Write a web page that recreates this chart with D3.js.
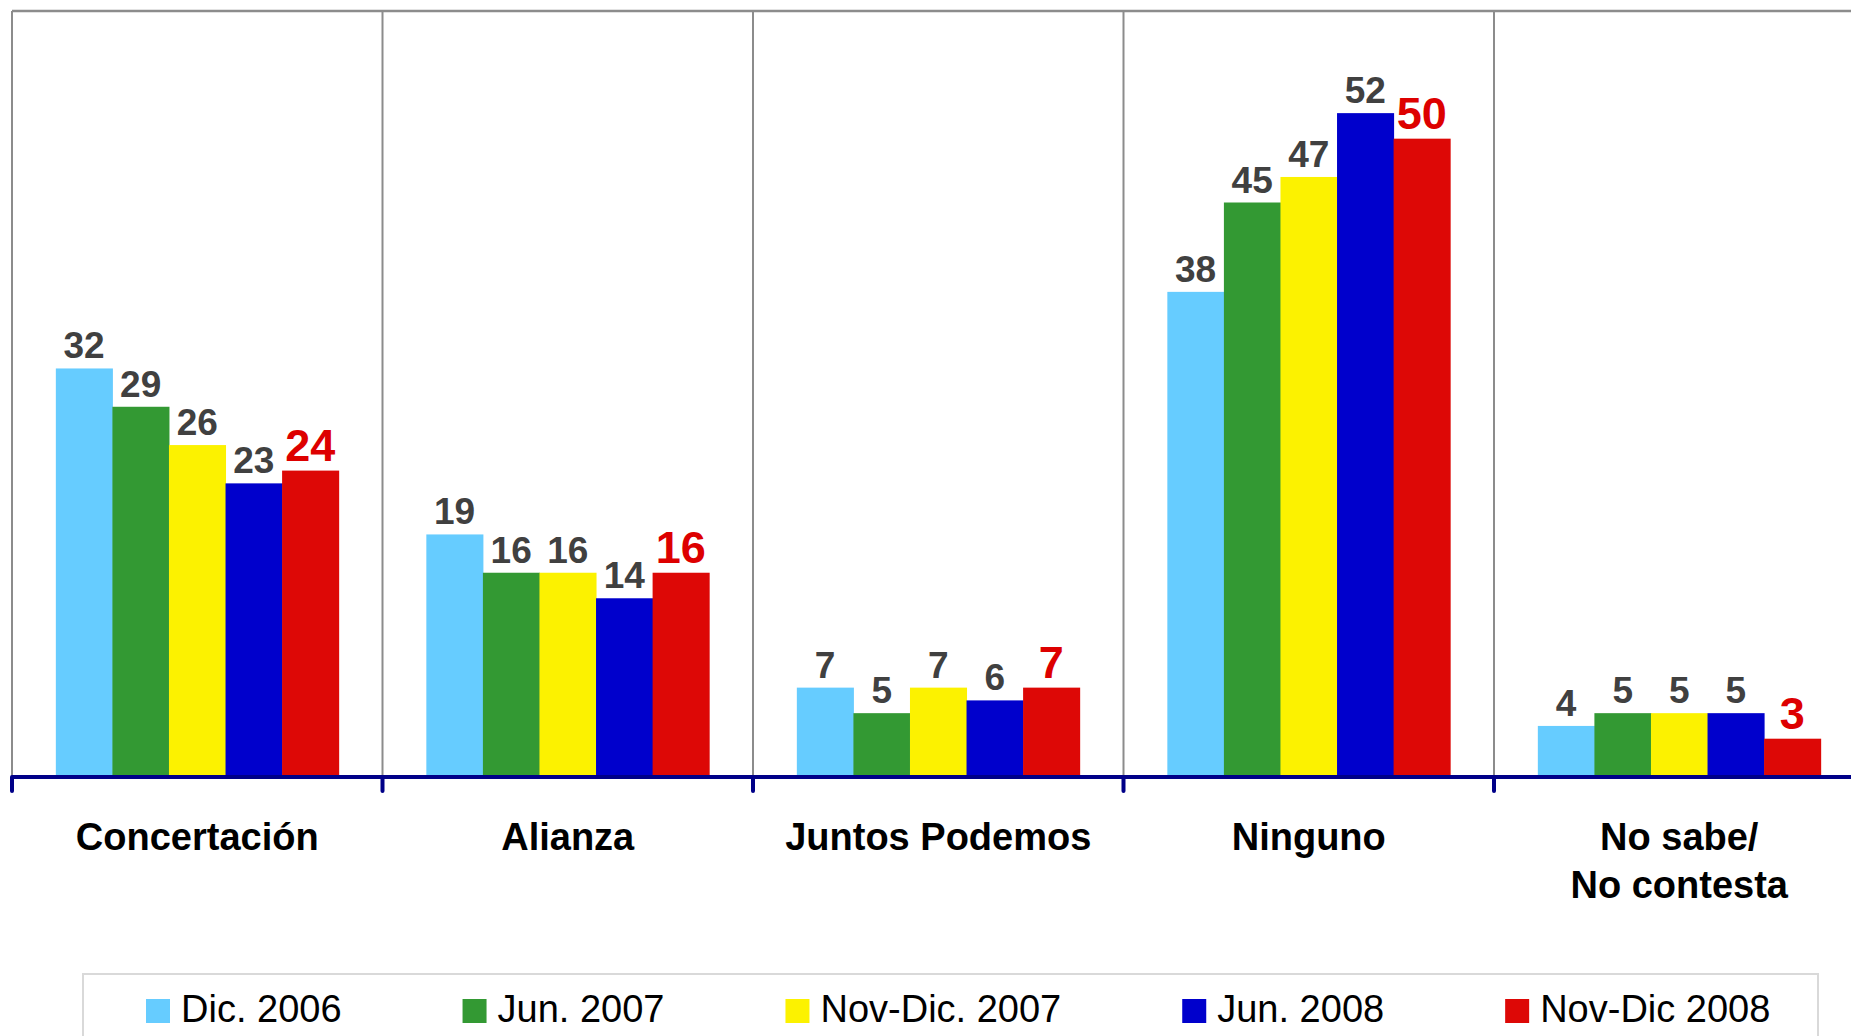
<!DOCTYPE html>
<html>
<head>
<meta charset="utf-8">
<script src="https://cdn.jsdelivr.net/npm/d3@7"></script>
<style>
  html, body { margin: 0; padding: 0; background: #fff; overflow: hidden; }
  svg { display: block; }
  text { font-family: "Liberation Sans", Arial, sans-serif; }
</style>
</head>
<body>
<script>
// ---- data ----
const categories = ["Concertación", "Alianza", "Juntos Podemos", "Ninguno", "No sabe/\nNo contesta"];
const seriesNames = ["Dic. 2006", "Jun. 2007", "Nov-Dic. 2007", "Jun. 2008", "Nov-Dic 2008"];
const dic2006   = [32, 19, 7, 38, 4];
const jun2007   = [29, 16, 5, 45, 5];
const novDic2007 = [26, 16, 7, 47, 5];
const jun2008   = [23, 14, 6, 52, 5];
const novDic2008 = [24, 16, 7, 50, 3];
const seriesValues = [dic2006, jun2007, novDic2007, jun2008, novDic2008];
const seriesColors = ["#66CCFF", "#339933", "#FCF200", "#0000CC", "#DD0806"];
const yDomain = [0, 60];

// ---- layout ----
const W = 1851, H = 1036;
const plotLeft = 12, plotTop = 11, plotBottom = 777;
const catStep = 370.5;

const svg = d3.select("body").append("svg").attr("width", W).attr("height", H);

const x0 = d3.scaleBand()
  .domain(categories)
  .range([plotLeft, plotLeft + catStep * categories.length])
  .paddingInner(0).paddingOuter(0);

const x1 = d3.scaleBand()
  .domain(seriesNames)
  .range([0, x0.bandwidth()])
  .paddingInner(0).paddingOuter(0.775);

const y = d3.scaleLinear().domain(yDomain).range([plotBottom, plotTop]);

// plot frame (top + left) and category dividers
const gridColor = "#8c8c8c";
svg.append("line").attr("x1", plotLeft).attr("x2", W + 20).attr("y1", plotTop).attr("y2", plotTop)
  .attr("stroke", gridColor).attr("stroke-width", 2.5);
svg.selectAll("line.div")
  .data(categories)
  .join("line")
  .attr("class", "div")
  .attr("x1", d => x0(d)).attr("x2", d => x0(d))
  .attr("y1", plotTop).attr("y2", plotBottom)
  .attr("stroke", gridColor).attr("stroke-width", 2);

// bars
const groups = svg.selectAll("g.cat")
  .data(categories)
  .join("g")
  .attr("class", "cat")
  .attr("transform", d => `translate(${x0(d)},0)`);

groups.each(function(cat, ci) {
  const g = d3.select(this);
  const rows = seriesNames.map((s, si) => ({ s, si, v: seriesValues[si][ci] }));
  g.selectAll("rect")
    .data(rows)
    .join("rect")
    .attr("x", d => x1(d.s))
    .attr("width", x1.bandwidth() + 0.5)
    .attr("y", d => y(d.v))
    .attr("height", d => y(0) - y(d.v))
    .attr("fill", d => seriesColors[d.si]);
  g.selectAll("text.val")
    .data(rows)
    .join("text")
    .attr("class", "val")
    .attr("x", d => x1(d.s) + x1.bandwidth() / 2)
    .attr("y", d => y(d.v) - 10)
    .attr("text-anchor", "middle")
    .attr("font-weight", "bold")
    .attr("font-size", d => d.si === 4 ? 45 : 37)
    .attr("fill", d => d.si === 4 ? "#DD0000" : "#404040")
    .text(d => d.v);
});

// x axis
const axisColor = "#000088";
svg.append("line")
  .attr("x1", plotLeft).attr("x2", W + 20)
  .attr("y1", plotBottom).attr("y2", plotBottom)
  .attr("stroke", axisColor).attr("stroke-width", 4);
svg.selectAll("line.tick")
  .data(categories)
  .join("line")
  .attr("class", "tick")
  .attr("x1", d => x0(d)).attr("x2", d => x0(d))
  .attr("y1", plotBottom).attr("y2", plotBottom + 14)
  .attr("stroke", axisColor).attr("stroke-width", 4).attr("stroke-linecap", "round");

// category labels
svg.selectAll("text.cat")
  .data(categories)
  .join("text")
  .attr("class", "cat")
  .attr("x", d => x0(d) + x0.bandwidth() / 2)
  .attr("y", 850)
  .attr("text-anchor", "middle")
  .attr("font-weight", "bold")
  .attr("font-size", 38)
  .attr("fill", "#000")
  .each(function(d) {
    const lines = d.split("\n");
    d3.select(this).selectAll("tspan")
      .data(lines)
      .join("tspan")
      .attr("x", x0(d) + x0.bandwidth() / 2)
      .attr("dy", (l, i) => i === 0 ? 0 : 48)
      .text(l => l);
  });

// legend
svg.append("rect")
  .attr("x", 83).attr("y", 974).attr("width", 1735).attr("height", 120)
  .attr("fill", "#fff").attr("stroke", "#d9d9d9").attr("stroke-width", 2);

let lx = 146;
seriesNames.forEach((name, i) => {
  const g = svg.append("g").attr("transform", `translate(${lx},0)`);
  g.append("rect").attr("x", 0).attr("y", 999).attr("width", 24).attr("height", 24)
    .attr("fill", seriesColors[i]);
  const t = g.append("text").attr("x", 35).attr("y", 1022)
    .attr("font-size", 38).attr("fill", "#000").text(name);
  const w = t.node().getComputedTextLength();
  lx += 35 + w + 121;
});
</script>
</body>
</html>
